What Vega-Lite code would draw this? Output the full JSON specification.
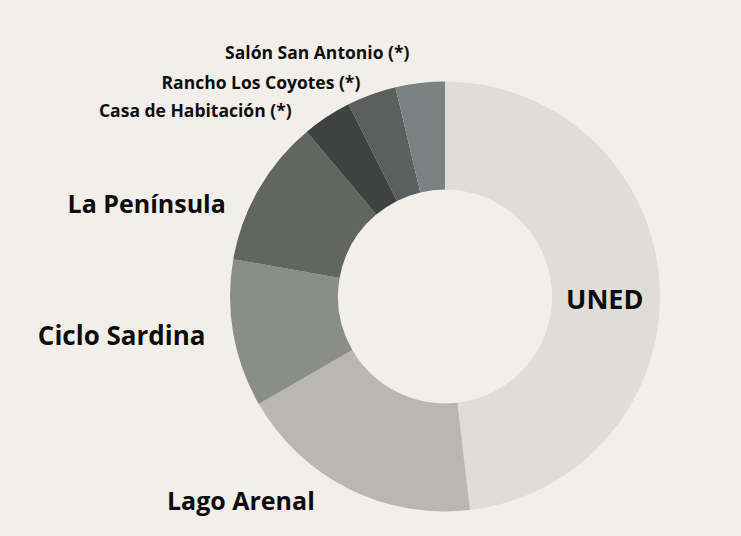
{
  "$schema": "https://vega.github.io/schema/vega-lite/v6.json",
  "autosize": {"type": "none"},
  "width": 592,
  "height": 479,
  "padding": {"left": 149, "top": 57, "right": 0, "bottom": 0},
  "background": "#f2efeb",
  "config": {"view": {"stroke": null}, "text": {"font": "Open Sans", "fontWeight": "bold", "color": "#0d0d0d"}},
  "data": {"values": [
    {"lugar": "UNED", "n": 13, "orden": 1},
    {"lugar": "Lago Arenal", "n": 5, "orden": 2},
    {"lugar": "Ciclo Sardina", "n": 3, "orden": 3},
    {"lugar": "La Península", "n": 3, "orden": 4},
    {"lugar": "Casa de  Habitación (*)", "n": 1, "orden": 5},
    {"lugar": "Rancho Los Coyotes (*)", "n": 1, "orden": 6},
    {"lugar": "Salón San Antonio (*)", "n": 1, "orden": 7}
  ]},
  "encoding": {
    "theta": {"field": "n", "type": "quantitative", "stack": true},
    "order": {"field": "orden", "type": "quantitative"}
  },
  "layer": [
    {
      "mark": {"type": "arc", "outerRadius": 215, "innerRadius": 107},
      "encoding": {
        "color": {"field": "lugar", "type": "nominal", "legend": null,
          "scale": {"domain": ["UNED", "Lago Arenal", "Ciclo Sardina", "La Península", "Casa de  Habitación (*)", "Rancho Los Coyotes (*)", "Salón San Antonio (*)"],
                    "range": ["#e0ddd8", "#b8b7b2", "#8b8d87", "#636560", "#3f4240", "#5b5f5d", "#7c8283"]}}
      }
    },
    {
      "mark": {"type": "text", "radius": 160, "dy": 14, "fontSize": 27, "align": "center", "baseline": "middle"},
      "encoding": {"text": {"condition": {"test": "datum.lugar === 'UNED'", "field": "lugar"}, "value": ""}}
    },
    {
      "mark": {"type": "text", "radius": 230, "dx": -27, "dy": 0, "fontSize": 25, "align": "right", "baseline": "middle"},
      "encoding": {"text": {"condition": {"test": "datum.lugar === 'Lago Arenal'", "field": "lugar"}, "value": ""}}
    },
    {
      "mark": {"type": "text", "radius": 230, "dx": -13, "dy": 1, "fontSize": 26, "align": "right", "baseline": "middle"},
      "encoding": {"text": {"condition": {"test": "datum.lugar === 'Ciclo Sardina'", "field": "lugar"}, "value": ""}}
    },
    {
      "mark": {"type": "text", "radius": 230, "dx": -20, "dy": 23, "fontSize": 25, "align": "right", "baseline": "middle"},
      "encoding": {"text": {"condition": {"test": "datum.lugar === 'La Península'", "field": "lugar"}, "value": ""}}
    },
    {
      "mark": {"type": "text", "radius": 230, "dx": -27, "dy": 8, "fontSize": 17.5, "align": "right", "baseline": "middle"},
      "encoding": {"text": {"condition": {"test": "datum.orden === 5", "field": "lugar"}, "value": ""}}
    },
    {
      "mark": {"type": "text", "radius": 230, "dx": -6, "dy": 4, "fontSize": 17.5, "align": "right", "baseline": "middle"},
      "encoding": {"text": {"condition": {"test": "datum.orden === 6", "field": "lugar"}, "value": ""}}
    },
    {
      "mark": {"type": "text", "radius": 246, "dx": -7, "dy": 2, "fontSize": 17.5, "align": "right", "baseline": "middle"},
      "encoding": {"text": {"condition": {"test": "datum.orden === 7", "field": "lugar"}, "value": ""}}
    }
  ]
}
